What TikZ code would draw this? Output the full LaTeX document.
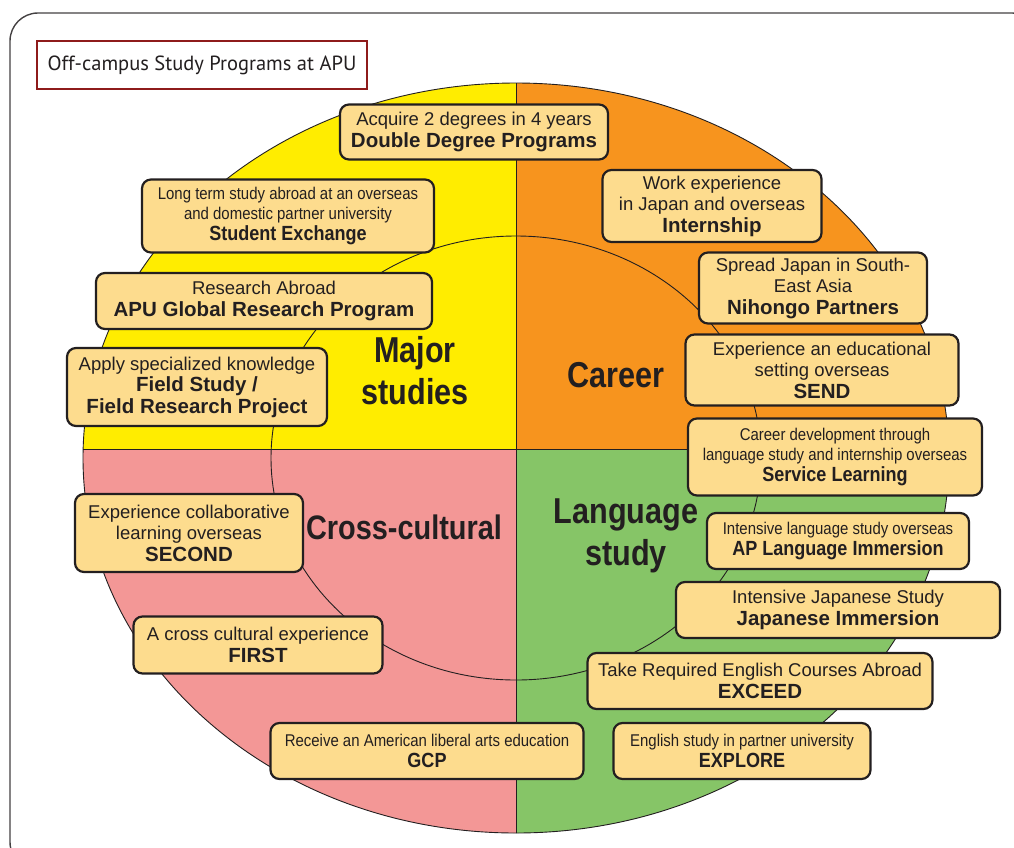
\documentclass[tikz,border=0pt]{standalone}
\usepackage{fontspec}
\setmainfont{Liberation Sans}
\newfontfamily\titlefont{PT Sans}
\newfontfamily\narrowfont{Liberation Sans}[FakeStretch=0.88]
\newfontfamily\areafont{Liberation Sans}[FakeStretch=0.85]
\usetikzlibrary{positioning}
\definecolor{ink}{HTML}{231F20}
\definecolor{titlered}{HTML}{8E1B1B}
\definecolor{majorcol}{HTML}{FFED00}
\definecolor{careercol}{HTML}{F7941E}
\definecolor{crosscol}{HTML}{F39796}
\definecolor{langcol}{HTML}{86C567}
\definecolor{progfill}{HTML}{FDDC8E}
\tikzstyle{prog} = [rectangle, rounded corners=9pt, draw=ink, line width=2.2pt, fill=progfill, text=ink, align=center, inner sep=2pt, font=\fontsize{18.5}{21.5}\selectfont]
\tikzstyle{small} = [font=\narrowfont\fontsize{17}{20.5}\selectfont]
\tikzstyle{area} = [text=ink, align=center, font=\areafont\bfseries\fontsize{36}{42}\selectfont]
\newcommand{\pname}[1]{{\bfseries\fontsize{20.5}{22}\selectfont #1}}

\begin{document}
\begin{tikzpicture}[x=1pt,y=-1pt]
            \useasboundingbox (0,0) rectangle (1014,847);
            \clip (0,0) rectangle (1014,847);
            \draw[ink!85, line width=1.4pt, rounded corners=28pt] (10,13) rectangle (1040,870);

            \begin{scope}
            \clip (516,458) ellipse [x radius=433, y radius=375];
            \fill[majorcol] (60,60) rectangle (516,449);
            \fill[careercol] (516,60) rectangle (970,449);
            \fill[crosscol] (60,449) rectangle (516,850);
            \fill[langcol] (516,449) rectangle (970,850);
            \draw[ink, line width=0.9pt] (60,449) -- (970,449);
            \draw[ink, line width=0.9pt] (516,60) -- (516,850);
            \end{scope}
            \draw[ink, line width=0.9pt] (516,458) ellipse [x radius=245, y radius=222];
            \draw[ink, line width=0.9pt] (516,458) ellipse [x radius=433, y radius=375];

            \node [area] (major) at (415,371) {Major\\studies};
            \node [area] (career) at (616,375) {Career};
            \node [area, font=\areafont\bfseries\fontsize{34}{40}\selectfont] (cross) at (404,527) {Cross-cultural};
            \node [area] (lang) at (626,536) {Language\\study};

            \node [draw=titlered, line width=2.6pt, fill=white, minimum width=330, minimum height=48, text=ink, font=\titlefont\fontsize{20.5}{24}\selectfont] (title) at (202,65) {Off-campus Study Programs at APU};

            \node [prog, minimum width=268, minimum height=55] (dd) at (474,132) {Acquire 2 degrees in 4 years\\ \pname{Double Degree Programs}};
            \node [prog, small, minimum width=292, minimum height=73] (exch) at (288,216) {Long term study abroad at an overseas\\and domestic partner university\\ \pname{Student Exchange}};
            \node [prog, minimum width=336, minimum height=56] (agr) at (264,301) {Research Abroad\\ \pname{APU Global Research Program}};
            \node [prog, minimum width=260, minimum height=78] (field) at (197,387) {Apply specialized knowledge\\ \pname{Field Study /}\\ \pname{Field Research Project}};

            \node [prog, minimum width=219, minimum height=72] (intern) at (712,206) {Work experience\\in Japan and overseas\\ \pname{Internship}};
            \node [prog, minimum width=228, minimum height=71] (nihongo) at (813,288) {Spread Japan in South-\\East Asia\\ \pname{Nihongo Partners}};
            \node [prog, minimum width=273, minimum height=71] (send) at (822,370) {Experience an educational\\setting overseas\\ \pname{SEND}};
            \node [prog, small, minimum width=294, minimum height=77] (service) at (835,457) {Career development through\\language study and internship overseas\\ \pname{Service Learning}};

            \node [prog, small, minimum width=262, minimum height=56] (apli) at (838,541) {Intensive language study overseas\\ \pname{AP Language Immersion}};
            \node [prog, minimum width=324, minimum height=56] (japim) at (838,610) {Intensive Japanese Study\\ \pname{Japanese Immersion}};
            \node [prog, minimum width=345, minimum height=56] (exceed) at (760,681) {Take Required English Courses Abroad\\ \pname{EXCEED}};
            \node [prog, small, minimum width=257, minimum height=56] (explore) at (742,751) {English study in partner university\\ \pname{EXPLORE}};

            \node [prog, small, minimum width=313, minimum height=56] (gcp) at (427,751) {Receive an American liberal arts education\\ \pname{GCP}};
            \node [prog, minimum width=228, minimum height=78] (second) at (189,533) {Experience collaborative\\learning overseas\\ \pname{SECOND}};
            \node [prog, minimum width=249, minimum height=57] (first) at (258,645) {A cross cultural experience\\ \pname{FIRST}};
        \end{tikzpicture}
\end{document}
